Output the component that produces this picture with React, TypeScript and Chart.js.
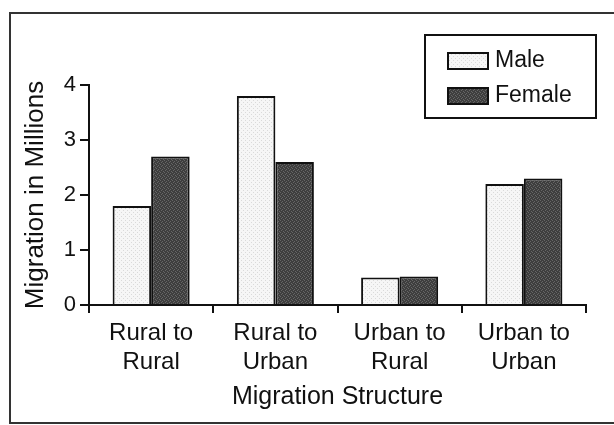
import React, { useEffect, useRef } from "react";
import { Chart, registerables } from "chart.js";

Chart.register(...registerables);

const categories: string[][] = [
  ["Rural to", "Rural"],
  ["Rural to", "Urban"],
  ["Urban to", "Rural"],
  ["Urban to", "Urban"],
];
const seriesNames = ["Male", "Female"];
const maleValues = [1.8, 3.8, 0.5, 2.2];
const femaleValues = [2.7, 2.6, 0.52, 2.3];
const yTickValues = [0, 1, 2, 3, 4];
const yAxisTitle = "Migration in Millions";
const xAxisTitle = "Migration Structure";

const FONT = "'Liberation Sans', Arial, Helvetica, sans-serif";
const INK = "#111111";

function makePattern(base: string, dot: string, cells: number[][]): CanvasPattern | string {
  const c = document.createElement("canvas");
  c.width = 4;
  c.height = 4;
  const g = c.getContext("2d");
  if (!g) return base;
  g.fillStyle = base;
  g.fillRect(0, 0, 4, 4);
  g.fillStyle = dot;
  cells.forEach(([x, y]) => g.fillRect(x, y, 1, 1));
  const p = g.createPattern(c, "repeat");
  return p || base;
}

const framePlugin = {
  id: "frame",
  beforeDraw(chart: any) {
    const { ctx, width, height } = chart;
    ctx.save();
    ctx.fillStyle = "#ffffff";
    ctx.fillRect(0, 0, width, height);
    ctx.strokeStyle = "#333";
    ctx.lineWidth = 2;
    ctx.beginPath();
    ctx.moveTo(width, 13);
    ctx.lineTo(10, 13);
    ctx.lineTo(10, 423);
    ctx.lineTo(width, 423);
    ctx.stroke();
    ctx.restore();
  },
};

const legendPlugin = {
  id: "boxLegend",
  afterDraw(chart: any) {
    const { ctx } = chart;
    const left = 425;
    const top = 35;
    const w = 171;
    const h = 83;
    ctx.save();
    ctx.strokeStyle = INK;
    ctx.lineWidth = 2;
    ctx.strokeRect(left, top, w, h);
    ctx.font = `23px ${FONT}`;
    ctx.textBaseline = "middle";
    ctx.textAlign = "left";
    chart.data.datasets.forEach((ds: any, i: number) => {
      const cy = 61 + i * 35;
      ctx.fillStyle = ds.backgroundColor;
      ctx.fillRect(448, cy - 8, 40, 16);
      ctx.strokeStyle = INK;
      ctx.lineWidth = 2;
      ctx.strokeRect(448, cy - 8, 40, 16);
      ctx.fillStyle = INK;
      ctx.fillText(ds.label, 495, cy);
    });
    ctx.restore();
  },
};

export default function App() {
  const ref = useRef<HTMLCanvasElement | null>(null);

  useEffect(() => {
    if (!ref.current) return;
    const maleFill = makePattern("#f6f6f6", "#dadada", [[1, 0], [3, 2]]);
    const femaleFill = makePattern("#3e3e3e", "#666666", [[0, 0], [2, 1], [1, 2], [3, 3]]);
    const chart = new Chart(ref.current, {
      type: "bar",
      data: {
        labels: categories,
        datasets: [
          {
            label: seriesNames[0],
            data: maleValues,
            backgroundColor: maleFill as any,
            borderColor: INK,
            borderWidth: 2,
            categoryPercentage: 0.62,
            barPercentage: 1.0,
          },
          {
            label: seriesNames[1],
            data: femaleValues,
            backgroundColor: femaleFill as any,
            borderColor: INK,
            borderWidth: 2,
            categoryPercentage: 0.62,
            barPercentage: 1.0,
          },
        ],
      },
      options: {
        responsive: false,
        animation: false,
        devicePixelRatio: 1,
        layout: { padding: { top: 85, right: 28, left: 0, bottom: 0 } },
        plugins: {
          legend: { display: false },
          tooltip: { enabled: false },
          title: { display: false },
        },
        scales: {
          x: {
            grid: {
              display: true,
              drawOnChartArea: false,
              drawTicks: true,
              tickLength: 8,
              color: INK,
              lineWidth: 2,
              offset: true,
            },
            border: { display: true, color: INK, width: 2 },
            ticks: {
              color: INK,
              font: { family: FONT, size: 24, lineHeight: 1.2 },
              padding: 6,
              maxRotation: 0,
              autoSkip: false,
            },
            title: {
              display: true,
              text: xAxisTitle,
              color: INK,
              font: { family: FONT, size: 25 },
              padding: { top: 0, bottom: 13 },
            },
            afterFit: (s: any) => {
              s.height = 120;
            },
          },
          y: {
            min: 0,
            max: 4,
            afterBuildTicks: (s: any) => {
              s.ticks = yTickValues.map((v) => ({ value: v }));
            },
            grid: {
              display: true,
              drawOnChartArea: false,
              drawTicks: true,
              tickLength: 9,
              color: INK,
              lineWidth: 2,
            },
            border: { display: true, color: INK, width: 2 },
            ticks: {
              color: INK,
              font: { family: FONT, size: 22 },
              padding: 4,
            },
            title: {
              display: true,
              text: yAxisTitle,
              color: INK,
              font: { family: FONT, size: 26 },
              padding: { top: 20, bottom: 0 },
            },
            afterFit: (s: any) => {
              s.width = 89;
            },
          },
        },
      },
      plugins: [framePlugin, legendPlugin],
    });
    return () => chart.destroy();
  }, []);

  return (
    <div style={{ position: "absolute", left: 0, top: 0, width: 614, height: 425 }}>
      <canvas ref={ref} width={614} height={425} style={{ width: 614, height: 425, display: "block" }} />
    </div>
  );
}
